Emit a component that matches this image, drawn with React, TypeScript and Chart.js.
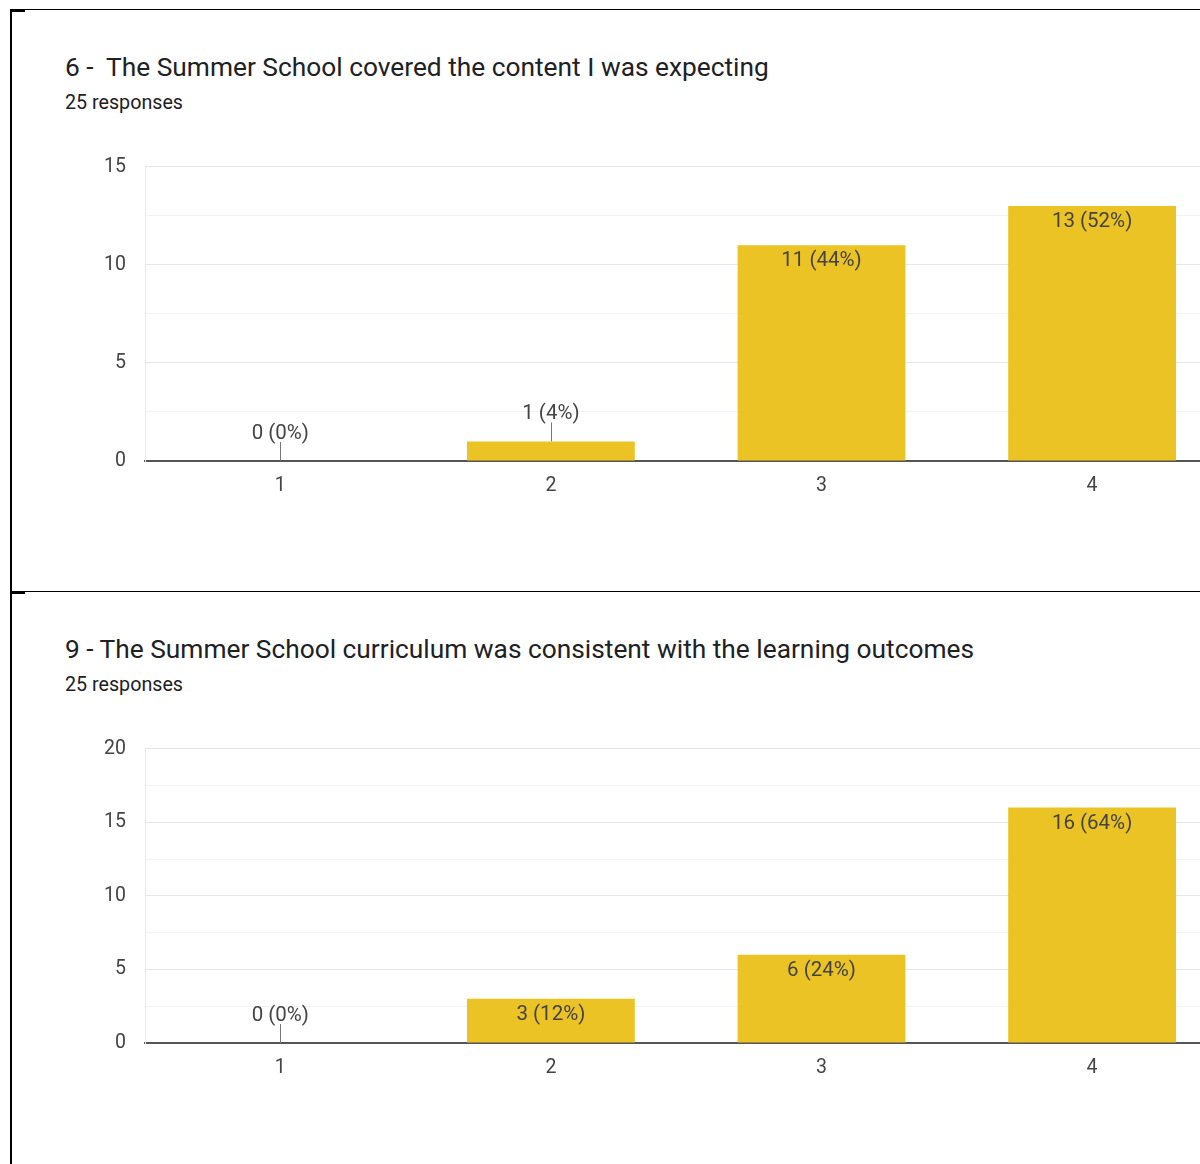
import React, { useEffect, useRef } from 'react';
import { Chart, registerables } from 'chart.js';

Chart.register(...registerables);
Chart.defaults.font.family = 'Roboto';

const categories = ['1', '2', '3', '4', '5'];
const q6Values = [0, 1, 11, 13, 0];
const q9Values = [0, 3, 6, 16, 0];
const q6Max = 15;
const q9Max = 20;
const q6Title = '6 -  The Summer School covered the content I was expecting';
const q9Title = '9 - The Summer School curriculum was consistent with the learning outcomes';
const q6Responses = '25 responses';
const q9Responses = '25 responses';

const BAR_COLOR = '#ebc324';
const TEXT_COLOR = '#444444';

const labelPlugin = {
  id: 'barLabels',
  afterDatasetsDraw(chart: any) {
    const ctx = chart.ctx;
    const meta = chart.getDatasetMeta(0);
    const data: number[] = chart.data.datasets[0].data;
    const total = data.reduce((a, b) => a + b, 0);
    ctx.save();
    ctx.font = '20.5px Roboto';
    ctx.fillStyle = TEXT_COLOR;
    ctx.textAlign = 'center';
    ctx.textBaseline = 'middle';
    meta.data.forEach((bar: any, i: number) => {
      const v = data[i];
      const text = `${v} (${Math.round((v / total) * 100)}%)`;
      const h = bar.base - bar.y;
      if (h >= 30) {
        ctx.fillText(text, bar.x, bar.y + 16);
      } else {
        ctx.fillText(text, bar.x, bar.y - 27.5);
        ctx.strokeStyle = '#777777';
        ctx.lineWidth = 1;
        const x = Math.round(bar.x) + 0.5;
        ctx.beginPath();
        ctx.moveTo(x, bar.y - 19);
        ctx.lineTo(x, bar.y);
        ctx.stroke();
      }
    });
    ctx.restore();
  },
};

const CANVAS_TOP = 136;
const CANVAS_H = 404;

function BarChart({ values, max, top }: { values: number[]; max: number; top: number }) {
  const ref = useRef<HTMLCanvasElement | null>(null);
  useEffect(() => {
    if (!ref.current) return;
    const chart = new Chart(ref.current, {
      type: 'bar',
      data: {
        labels: categories,
        datasets: [
          {
            data: values,
            backgroundColor: BAR_COLOR,
            borderWidth: 0,
            categoryPercentage: 1,
            barPercentage: 0.62,
          },
        ],
      },
      options: {
        animation: false,
        responsive: false,
        maintainAspectRatio: false,
        layout: { autoPadding: false, padding: { top: 26, right: 12, left: 0, bottom: 0 } },
        plugins: {
          legend: { display: false },
          tooltip: { enabled: false },
        },
        scales: {
          x: {
            grid: { display: false, drawTicks: false },
            border: { color: '#555555', width: 2 },
            ticks: { color: TEXT_COLOR, font: { family: 'Roboto', size: 19.5 }, padding: 13 },
            afterFit: (s: any) => {
              s.height = 79;
            },
          },
          y: {
            min: 0,
            max: max,
            ticks: {
              stepSize: 2.5,
              autoSkip: false,
              color: TEXT_COLOR,
              font: { family: 'Roboto', size: 19.5 },
              padding: 19,
              callback: (v: any) => (Number(v) % 5 === 0 ? String(v) : ''),
            },
            grid: {
              drawTicks: false,
              lineWidth: 1,
              color: (c: any) =>
                c.tick && c.tick.value === 0
                  ? 'rgba(0,0,0,0)'
                  : c.tick && c.tick.value % 5 === 0
                  ? '#e6e6e6'
                  : '#f2f2f2',
            },
            border: { color: '#e8e8e8', width: 1 },
            afterFit: (s: any) => {
              s.width = 145;
            },
          },
        },
      },
      plugins: [labelPlugin],
    } as any);
    return () => chart.destroy();
  }, [values, max]);
  return (
    <canvas
      ref={ref}
      width={1510}
      height={CANVAS_H}
      style={{ position: 'absolute', left: 0, top, width: 1510, height: CANVAS_H }}
    />
  );
}

const textBase: React.CSSProperties = {
  position: 'absolute',
  left: 65,
  fontFamily: 'Roboto',
  color: '#202124',
  whiteSpace: 'pre',
  lineHeight: 'normal',
  margin: 0,
};

export default function App() {
  const off = 582;
  return (
    <div
      style={{
        position: 'absolute',
        left: 0,
        top: 0,
        width: 1200,
        height: 1164,
        overflow: 'hidden',
        background: '#ffffff',
      }}
    >
      {/* borders */}
      <div style={{ position: 'absolute', left: 10, top: 9, width: 1190, height: 1, background: '#000' }} />
      <div style={{ position: 'absolute', left: 10, top: 9, width: 15, height: 3, background: '#000' }} />
      <div style={{ position: 'absolute', left: 10, top: 9, width: 2, height: 1155, background: '#000' }} />
      <div style={{ position: 'absolute', left: 10, top: 591, width: 1190, height: 1, background: '#000' }} />
      <div style={{ position: 'absolute', left: 10, top: 591, width: 15, height: 3, background: '#000' }} />

      <div style={{ ...textBase, top: 51.5, fontSize: 26.3 }}>{q6Title}</div>
      <div style={{ ...textBase, top: 91, fontSize: 19.7 }}>{q6Responses}</div>
      <BarChart values={q6Values} max={q6Max} top={CANVAS_TOP} />

      <div style={{ ...textBase, top: 51.5 + off, fontSize: 26.3 }}>{q9Title}</div>
      <div style={{ ...textBase, top: 91 + off, fontSize: 19.7 }}>{q9Responses}</div>
      <BarChart values={q9Values} max={q9Max} top={CANVAS_TOP + off} />
    </div>
  );
}
